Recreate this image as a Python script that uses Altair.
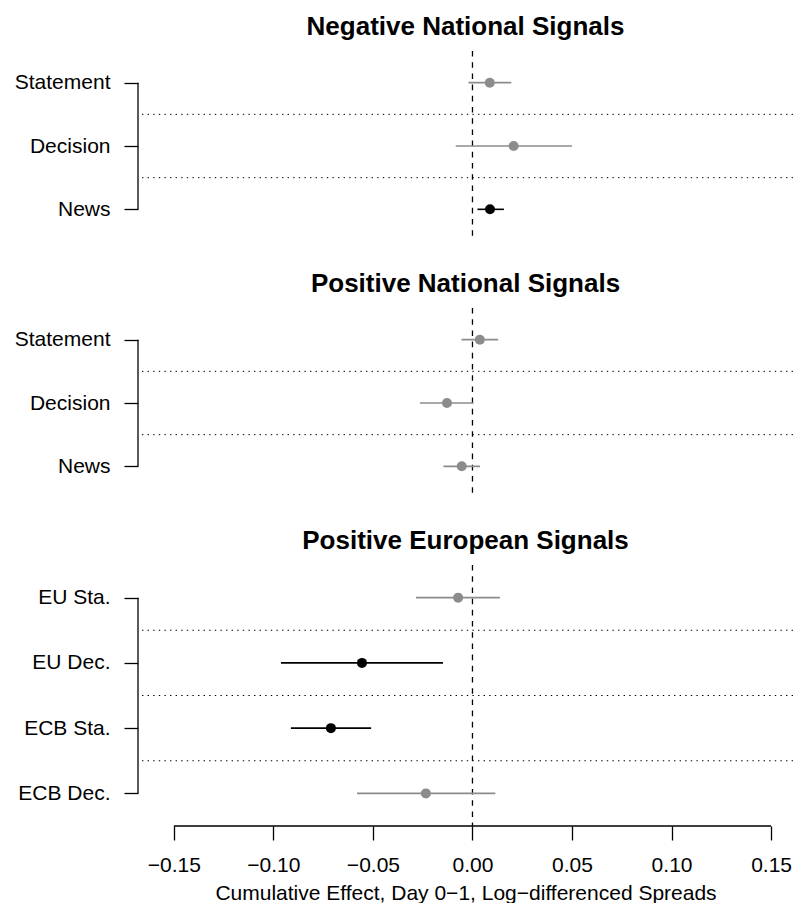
import json
import altair as alt
import pandas as pd

FONT = "Liberation Sans"
GREY = "#8c8c8c"

p1_title = "Negative National Signals"
p1_cats = ["Statement", "Decision", "News"]
p1_est = [0.0087, 0.0207, 0.0088]
p1_lo = [-0.0020, -0.0084, 0.0025]
p1_hi = [0.0195, 0.0500, 0.0158]
p1_sig = [False, False, True]

p2_title = "Positive National Signals"
p2_cats = ["Statement", "Decision", "News"]
p2_est = [0.0037, -0.0128, -0.0054]
p2_lo = [-0.0055, -0.0264, -0.0146]
p2_hi = [0.0129, 0.0005, 0.0038]
p2_sig = [False, False, False]

p3_title = "Positive European Signals"
p3_cats = ["EU Sta.", "EU Dec.", "ECB Sta.", "ECB Dec."]
p3_est = [-0.0072, -0.0555, -0.0711, -0.0234]
p3_lo = [-0.0284, -0.0962, -0.0912, -0.0580]
p3_hi = [0.0138, -0.0148, -0.0509, 0.0115]
p3_sig = [False, True, True, False]

x_ticks = [-0.15, -0.10, -0.05, 0.0, 0.05, 0.10, 0.15]
x_title = "Cumulative Effect, Day 0\u22121, Log\u2212differenced Spreads"
X_DOMAIN = [-0.168, 0.161]
WIDTH = 655


def panel(title, cats, est, lo, hi, sig, height, show_x):
    n = len(cats)
    pos = list(range(1, n + 1))
    df = pd.DataFrame({"pos": pos, "cat": cats, "est": est, "lo": lo, "hi": hi,
                       "col": ["black" if s else GREY for s in sig]})
    xscale = alt.Scale(domain=X_DOMAIN, nice=False, zero=False)
    yscale = alt.Scale(domain=[0.5, n + 0.5], reverse=True, nice=False, zero=False)
    label_expr = json.dumps(cats) + "[datum.value - 1]"
    yaxis = alt.Axis(values=pos, labelExpr=label_expr, domain=False, ticks=True,
                     tickSize=14, tickColor="black", tickWidth=1.3, labelFontSize=21,
                     labelColor="black", labelPadding=14, labelFont=FONT, title=None,
                     grid=False)
    if show_x:
        xaxis = alt.Axis(values=x_ticks, format=".2f",
                         labelExpr="replace(datum.label, '-', '\u2212')",
                         domain=False, tickSize=14, tickColor="black", tickWidth=1.3,
                         labelFontSize=21, labelPadding=14, labelColor="black",
                         labelFont=FONT, labelFlush=False,
                         title=x_title, titleFontSize=21, titleFontWeight="normal",
                         titlePadding=7, titleColor="black", titleFont=FONT, grid=False)
    else:
        xaxis = None

    def X(f):
        return alt.X(f, scale=xscale, axis=xaxis)

    def Y(f):
        return alt.Y(f, scale=yscale, axis=yaxis)

    sep_df = pd.DataFrame({"sep": [p + 0.5 for p in pos[:-1]]})
    seps = alt.Chart(sep_df).mark_rule(color="black", strokeDash=[1.4, 4.2],
                                       strokeWidth=1).encode(y=Y("sep:Q"))
    zero_df = pd.DataFrame({"zero": [0.0]})
    zero = alt.Chart(zero_df).mark_rule(color="black", strokeDash=[5.6, 5.6],
                                        strokeWidth=1.3).encode(x=X("zero:Q"))
    br_df = pd.DataFrame({"b1": [pos[0]], "b2": [pos[-1]]})
    bracket = alt.Chart(br_df).mark_rule(color="black", strokeWidth=1.3).encode(
        x=alt.value(0), y=Y("b1:Q"), y2="b2:Q")
    err = alt.Chart(df).mark_rule(strokeWidth=1.6).encode(
        x=X("lo:Q"), x2="hi:Q", y=Y("pos:Q"), color=alt.Color("col:N", scale=None))
    pts = alt.Chart(df).mark_circle(size=100, opacity=1).encode(
        x=X("est:Q"), y=Y("pos:Q"), color=alt.Color("col:N", scale=None))
    layers = [seps, zero, bracket, err, pts]
    if show_x:
        ax_df = pd.DataFrame({"a1": [x_ticks[0]], "a2": [x_ticks[-1]], "ybot": [n + 0.5]})
        axline = alt.Chart(ax_df).mark_rule(color="black", strokeWidth=1.3).encode(
            x=X("a1:Q"), x2="a2:Q", y=Y("ybot:Q"))
        layers.append(axline)
    return alt.layer(*layers).properties(
        width=WIDTH, height=height,
        title=alt.TitleParams(title, fontSize=26, fontWeight="bold", font=FONT,
                              anchor="middle", frame="group", offset=10,
                              color="black"))


c1 = panel(p1_title, p1_cats, p1_est, p1_lo, p1_hi, p1_sig, 190, False)
c2 = panel(p2_title, p2_cats, p2_est, p2_lo, p2_hi, p2_sig, 190, False)
c3 = panel(p3_title, p3_cats, p3_est, p3_lo, p3_hi, p3_sig, 261, True)

chart = alt.vconcat(c1, c2, c3, spacing=29).resolve_scale(
    x="independent", y="independent").properties(
    padding={"left": 6, "top": 6, "right": 0, "bottom": 0}
).configure(font=FONT).configure_view(stroke=None)

chart.save("out.html", embed_options={"renderer": "svg", "actions": False})
